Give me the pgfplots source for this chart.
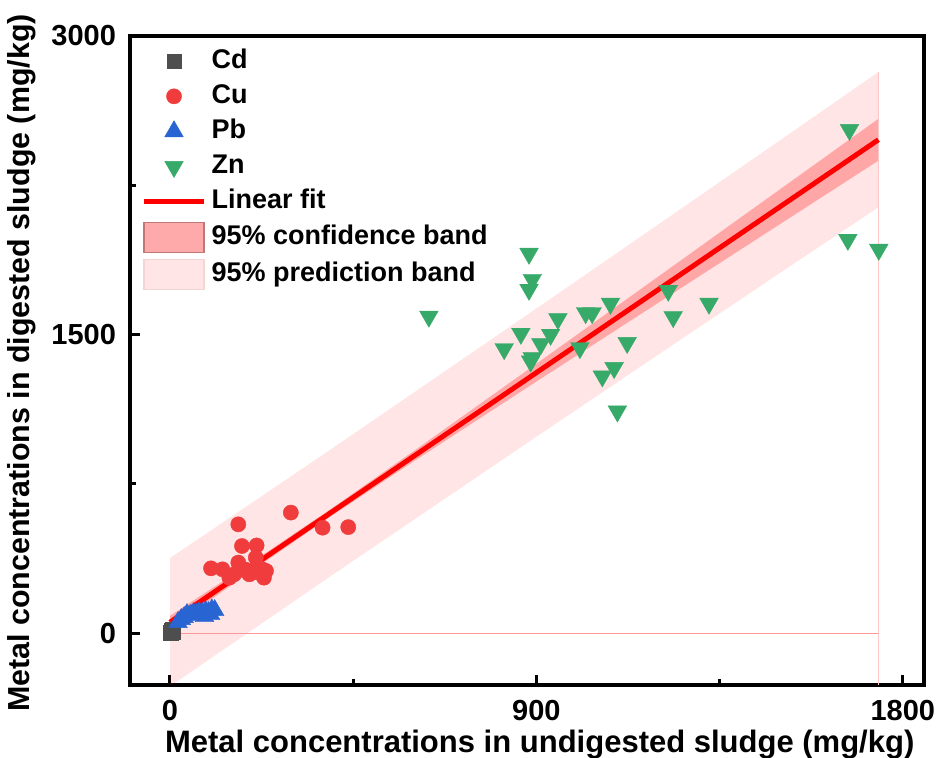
\documentclass[border=0pt]{standalone}
\usepackage{fontspec}
\setmainfont{Liberation Sans}
\usepackage{pgfplots}
\pgfplotsset{compat=1.18}
\definecolor{cdc}{RGB}{78,78,78}
\definecolor{cuc}{RGB}{240,60,60}
\definecolor{pbc}{RGB}{40,100,210}
\definecolor{znc}{RGB}{55,170,105}
\definecolor{confleg}{RGB}{255,170,170}
\definecolor{confedge}{RGB}{190,120,120}
\definecolor{predleg}{RGB}{255,229,229}
\definecolor{prededge}{RGB}{245,212,212}
\begin{document}
\begin{tikzpicture}
\begin{axis}[
  at={(0pt,0pt)}, anchor=south west,
  width=397pt, height=324.5pt, scale only axis,
  xmin=-98, xmax=1852, ymin=-260, ymax=3000,
  xtick={0,900,1800}, minor xtick={450,1350},
  ytick={0,1500,3000}, minor ytick={750,2250},
  tick pos=left, tick align=inside,
  major tick length=5pt, minor tick length=3pt,
  every tick/.style={black, line width=1.5pt},
  axis line style={line width=2pt},
  ticklabel style={font=\fontsize{14.5}{16}\selectfont\bfseries},
  xticklabel style={yshift=-4pt},
  yticklabel style={xshift=-3.5pt},
  /pgf/number format/assume math mode=true,
  /pgf/number format/1000 sep={},
  scaled ticks=false,
  xlabel={Metal concentrations in undigested sludge (mg/kg)},
  ylabel={Metal concentrations in digested sludge (mg/kg)},
  xlabel style={font=\fontsize{15.5}{18}\selectfont\bfseries, at={(axis description cs:0.516,-0.0925)}, anchor=center},
  ylabel style={font=\fontsize{15.2}{18}\selectfont\bfseries, at={(axis description cs:-0.136,0.496)}, anchor=center},
  legend style={at={(axis description cs:0.014,0.985)}, anchor=north west,
    draw=none, fill=none, inner sep=0pt,
    font=\fontsize{13.5}{16}\selectfont\bfseries,
    row sep=2.6pt, column sep=0pt,
    nodes={text height=10pt, text depth=3pt, inner xsep=2.5pt, inner ysep=1pt}},
  legend cell align=left,
  legend image code/.code={\draw[mark repeat=2,mark phase=2,#1] plot coordinates {(0pt,0pt)(15pt,0pt)(30pt,0pt)};},
]
% data markers
\addplot[only marks, mark=square*, mark size=3.6pt, mark options={fill=cdc, draw=cdc, line width=0.2pt}]
 coordinates {(2,3)(3,6)(4,9)(5,5)(6,12)(3,15)(7,8)(5,18)};
\addlegendentry{Cd}
\addplot[only marks, mark=*, mark size=3.8pt, mark options={fill=cuc, draw=cuc, line width=0.2pt}]
 coordinates {(168,547)(297,606)(375,530)(438,533)(177,438)(213,441)(101,326)(129,321)(168,355)(158,296)(211,380)(227,321)(231,279)(195,296)(146,279)(215,338)(236,313)(185,320)(205,305)};
\addlegendentry{Cu}
\addplot[only marks, mark=triangle*, mark size=5.4pt, mark options={fill=pbc, draw=pbc, line width=0.2pt}]
 coordinates {(20,55)(28,70)(35,80)(42,95)(50,90)(58,100)(65,95)(72,105)(80,100)(88,110)(95,105)(103,118)(110,115)(85,85)(100,95)};
\addlegendentry{Pb}
\addplot[only marks, mark=triangle*, mark size=5.4pt, mark options={rotate=180, fill=znc, draw=znc, line width=0.2pt}]
 coordinates {(882,1907)(890,1776)(882,1726)(821,1428)(862,1505)(953,1579)(935,1500)(911,1453)(890,1383)(886,1366)
 (1021,1609)(1037,1609)(1082,1656)(1007,1433)(1123,1459)(1091,1333)(1062,1291)(1099,1115)(1224,1721)(1236,1589)
 (1324,1656)(636,1591)(1669,2529)(1665,1977)(1741,1927)};
\addlegendentry{Zn}
% bands drawn over markers
\addplot[forget plot, draw=none, fill=red, fill opacity=0.1]
 coordinates {(0,377)(400,930)(900,1631)(1200,2054)(1500,2478)(1740,2819)
 (1740,2139)(1500,1812)(1200,1400)(900,987)(400,294)(0,-267)} -- cycle;
\addplot[forget plot, draw=none, fill=red, fill opacity=0.27]
 coordinates {(0,86.7)(200,354.8)(400,630.6)(600,916.7)(900,1353.4)(1200,1792.4)(1500,2232)(1740,2583.8)
 (1740,2373.8)(1500,2057)(1200,1660.8)(900,1264)(600,864.9)(400,593.8)(200,312.4)(0,23.3)} -- cycle;
\addplot[forget plot, draw=red!40, line width=0.6pt] coordinates {(0,0)(1740,0)};
\addplot[forget plot, draw=red!22, line width=0.6pt] coordinates {(1740,-260)(1740,2819)};
% fit line
\addplot[red, line width=2.5pt] coordinates {(0,55)(400,612.2)(900,1308.7)(1200,1726.6)(1500,2144.5)(1740,2478.8)};
\addlegendentry{Linear fit}
\addlegendimage{legend image code/.code={\draw[fill=confleg, draw=confedge, line width=0.6pt] (0pt,-7.5pt) rectangle (30pt,7.5pt);}}
\addlegendentry{95\% confidence band}
\addlegendimage{legend image code/.code={\draw[fill=predleg, draw=prededge, line width=0.6pt] (0pt,-7.5pt) rectangle (30pt,7.5pt);}}
\addlegendentry{95\% prediction band}
\end{axis}
\pgfresetboundingbox
\path (-65pt,-36.5pt) rectangle (404.5pt,342.5pt);
\end{tikzpicture}
\end{document}
